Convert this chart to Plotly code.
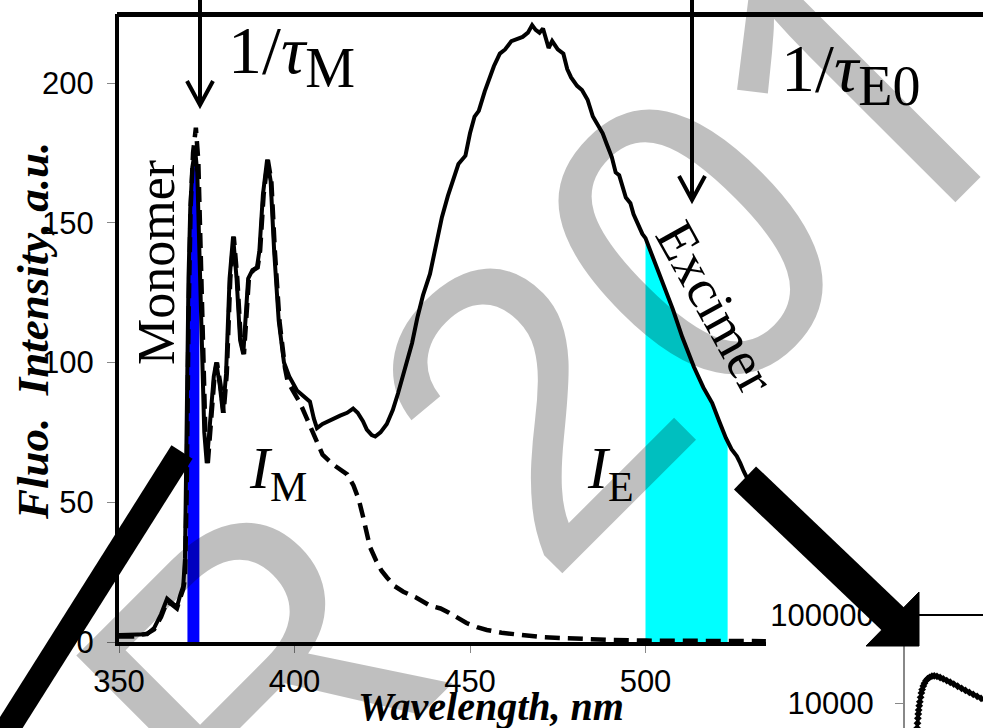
import plotly.graph_objects as go
import numpy as np

# ---------------- data ----------------
wl_solid = [350, 354, 358, 360, 362, 363.7, 365, 366.5, 367.5, 368.3, 368.8, 369.1, 369.4, 369.8, 370.3,
            370.9, 371.7, 372.3, 372.9, 373.6, 374.3, 375, 376, 377, 377.7, 378.7, 379.6, 380.5, 381.5,
            382.5, 383.5, 384.5, 385.4, 386.2, 386.8, 388, 389.3, 390, 391, 392.2, 393.2, 394.2, 395.5,
            397, 398.5, 400.7, 402.5, 404.4, 405.5, 406.4, 408, 409.5, 411, 413, 415, 416.7, 418, 419.5,
            420.6, 422, 423, 424.5, 426.3, 428, 429.5, 431.5, 433.5, 435, 436.6, 438.6, 440.6, 442, 443.7,
            446.7, 448.7, 450, 451.3, 452.5, 454.2, 456.8, 458.5, 460, 461.8, 463.5, 465, 466.5, 467.7,
            468.7, 469.8, 470.8, 471.6, 472.4, 473.4, 475, 476.6, 477.7, 478.8, 480.5, 481.9, 483.5, 485,
            486.5, 487.8, 489, 490.4, 491.5, 492.5, 494.4, 495.7, 496.6, 498, 499.1, 500, 502, 504.5,
            507.8, 510.5, 513.8, 516.5, 519, 521, 522.9, 524.5, 526, 527, 528, 530, 532, 534.3]
int_solid = [2.5, 2.5, 2.8, 5, 10, 15.5, 14, 12.5, 17, 20, 30, 60, 100, 130, 155,
             170, 176, 168, 140, 100, 75, 64, 78, 95, 100, 92, 82, 96, 130,
             145, 130, 108, 103, 118, 130, 133, 134, 140, 160, 172.5, 165, 140, 115,
             100, 95, 90, 88, 86, 80, 76.5, 78, 79, 80, 81, 82, 83.5, 82, 79,
             76, 74, 73.5, 75, 78, 83, 89, 98, 107, 116, 124, 131.7, 144, 152, 159.6,
             171, 174, 182, 188, 190, 197, 206, 210.5, 212, 215, 216, 216.5, 218, 220.7,
             219, 218, 219.5, 216, 212.5, 215, 212, 210.5, 205, 202, 199, 197.5, 194, 188,
             185, 182, 178, 173.5, 168, 167, 159, 157, 153, 149, 146, 144.5, 138, 130,
             119, 109, 98.4, 91, 85.5, 79, 73, 69, 66.5, 64, 61, 56, 51, 46]

wl_dash = [350, 354, 358, 360, 362, 363.7, 365, 366.5, 367.5, 368.3, 368.8, 369.3, 369.8, 370.4, 371.1,
           371.9, 372.6, 373.2, 373.9, 374.6, 375.3, 376.3, 377.2, 377.9, 378.9, 379.8, 380.7, 381.7,
           382.7, 383.7, 384.7, 385.6, 386.4, 387, 388.2, 389.5, 390.2, 391.2, 392.4, 393.4, 394.4,
           395.7, 397.3, 398, 399.5, 401.6, 403.5, 405.3, 406.4, 408, 411, 413, 415, 416.8, 418.3,
           419.5, 420.5, 421.5, 423.3, 424.8, 426.4, 428.5, 431, 434.5, 438.6, 441.6, 444, 446.5, 449,
           452, 454.8, 459, 464, 470, 476.5, 483, 490.8, 500, 510, 520, 534.3]
int_dash = [2, 2, 3, 4.5, 9, 14.5, 13.5, 12, 16, 19, 23, 55, 115, 155, 175,
            184, 172, 140, 100, 75, 64, 78, 95, 100, 92, 82, 96, 130,
            145, 130, 108, 103, 118, 130, 133, 134, 140, 160, 172.5, 165, 140,
            115, 98, 93.5, 90, 85.5, 80, 75, 72, 67, 63.5, 61.5, 60, 56, 51,
            45, 38.5, 34, 29, 25.5, 23, 20, 18, 16, 13, 12, 10.5, 8.5, 6.8,
            5.3, 4.3, 3.3, 2.5, 1.8, 1.4, 1.0, 0.7, 0.5, 0.4, 0.3, 0.3]

monomer_band = [369.5, 372.9]
excimer_band = [500.0, 523.4]

x_ticks = [350, 400, 450, 500]
y_ticks = [0, 50, 100, 150, 200]

decay_t = [3.1, 3.2, 3.3, 3.4, 3.5, 3.65, 3.8, 4.0, 4.2, 4.4, 4.7, 5.0, 5.4, 5.8, 6.3, 6.9, 7.5,
           8.2, 9.0, 9.8, 10.7, 11.6, 12.5, 13.5, 14.5, 15.5, 16.5, 17.5, 18.5, 19.5, 20.5]
decay_counts = [5200, 5900, 6700, 7500, 8300, 9300, 10300, 11600, 13000, 14200, 15600, 16800, 18000,
                18900, 19600, 20200, 20300, 20100, 19500, 18800, 18000, 17200, 16400, 15500, 14700,
                13900, 13200, 12500, 11900, 11300, 10800]
decay_ticks = [10000, 100000]
decay_ticktext = ["10000", "100000"]

watermark_parts = ["R 20", "1", "9"]

# ---------------- helpers ----------------
W, H = 983, 728


def px(x):
    return x / W


def py(y):
    return 1 - y / H


def band(lo, hi):
    xs = np.array(wl_solid, dtype=float)
    ys = np.array(int_solid, dtype=float)
    m = (xs > lo) & (xs < hi)
    bx = [lo, lo] + list(xs[m]) + [hi, hi]
    by = [0, float(np.interp(lo, xs, ys))] + list(ys[m]) + [float(np.interp(hi, xs, ys)), 0]
    return bx, by


SERIF = "Liberation Serif"
SANS = "Liberation Sans"
TICK_SIZE = 31

fig = go.Figure()

bx, by = band(*monomer_band)
fig.add_trace(go.Scatter(x=bx, y=by, fill="toself", fillcolor="#0000FF", mode="lines",
                         line=dict(width=0), hoverinfo="skip", showlegend=False))
bx, by = band(*excimer_band)
fig.add_trace(go.Scatter(x=bx, y=by, fill="toself", fillcolor="#00FFFF", mode="lines",
                         line=dict(width=0), hoverinfo="skip", showlegend=False))

fig.add_trace(go.Scatter(x=wl_dash, y=int_dash, mode="lines",
                         line=dict(color="black", width=4.5, dash="15px,8px"), showlegend=False))
fig.add_trace(go.Scatter(x=wl_solid, y=int_solid, mode="lines",
                         line=dict(color="black", width=4), showlegend=False))

fig.add_trace(go.Scatter(x=decay_t, y=decay_counts, mode="lines+markers", xaxis="x2", yaxis="y2",
                         line=dict(color="black", width=3),
                         marker=dict(symbol="diamond", size=6, color="black"), showlegend=False))

x0_dom = 119 / W
x1_dom = 766 / W
y0_dom = (H - 642) / H
y1_dom = (H - 14) / H
x_per_nm = 3.51
y_per_unit = 2.795

fig.update_layout(
    width=W, height=H,
    margin=dict(l=0, r=0, t=0, b=0),
    paper_bgcolor="white", plot_bgcolor="rgba(0,0,0,0)",
    xaxis=dict(domain=[x0_dom, x1_dom], range=[350, 350 + (766 - 119) / x_per_nm],
               tickvals=x_ticks, ticks="outside", ticklen=7, tickcolor="#888888", tickwidth=1,
               showline=True, linecolor="black", linewidth=4, showgrid=False, zeroline=False,
               tickfont=dict(family=SANS, size=TICK_SIZE, color="black"), ticklabelstandoff=2,
               automargin=False),
    yaxis=dict(domain=[y0_dom, y1_dom], range=[0, (642 - 14) / y_per_unit],
               tickvals=y_ticks, ticks="outside", ticklen=8, tickcolor="#888888", tickwidth=1,
               showline=True, linecolor="black", linewidth=4, showgrid=False, zeroline=False,
               tickfont=dict(family=SANS, size=TICK_SIZE, color="black"), ticklabelstandoff=7,
               automargin=False),
    xaxis2=dict(domain=[905 / W, 1.0], range=[0, 20], anchor="y2", showticklabels=False,
                showline=False, showgrid=False, zeroline=False, ticks=""),
    yaxis2=dict(domain=[0, (H - 615) / H], type="log", range=[5 - 113 / 88, 5], anchor="x2",
                tickvals=decay_ticks, ticktext=decay_ticktext, ticks="outside", ticklen=8,
                tickcolor="#888888", showline=True, linecolor="#888888", linewidth=2,
                showgrid=False, zeroline=False, ticklabelstandoff=15,
                tickfont=dict(family=SANS, size=TICK_SIZE, color="black"), automargin=False),
)

shapes = []
# top frame line
shapes.append(dict(type="line", xref="paper", yref="paper", x0=px(117), y0=py(14.5), x1=px(983), y1=py(14.5),
                   line=dict(color="black", width=5), layer="above"))
# inset top line
shapes.append(dict(type="line", xref="paper", yref="paper", x0=px(905), y0=py(615), x1=px(983), y1=py(615),
                   line=dict(color="black", width=2), layer="above"))
# thin vertical arrows
for ax, tip in [(200, 105), (692, 200)]:
    shapes.append(dict(type="line", xref="paper", yref="paper", x0=px(ax), y0=py(0), x1=px(ax), y1=py(tip - 2),
                       line=dict(color="black", width=4), layer="above"))
    shapes.append(dict(type="path", xref="paper", yref="paper",
                       path=f"M {px(ax-13)},{py(tip-24)} L {px(ax)},{py(tip)} L {px(ax+13)},{py(tip-24)}",
                       line=dict(color="black", width=4), layer="above"))
# thick left bar
shapes.append(dict(type="line", xref="paper", yref="paper", x0=px(182), y0=py(452), x1=px(-25), y1=py(780),
                   line=dict(color="black", width=25), layer="above"))
# thick right arrow
shapes.append(dict(type="line", xref="paper", yref="paper", x0=px(745), y0=py(478), x1=px(895), y1=py(621),
                   line=dict(color="black", width=32), layer="above"))
shapes.append(dict(type="path", xref="paper", yref="paper",
                   path=f"M {px(866)},{py(646)} L {px(919)},{py(592)} L {px(919)},{py(646)} Z",
                   fillcolor="black", line=dict(color="black", width=1), layer="above"))
fig.update_layout(shapes=shapes)

ann = []


def add_text(text, x, y, size, angle=0, family=SERIF, color="black"):
    ann.append(dict(text=text, x=px(x), y=py(y), xref="paper", yref="paper", showarrow=False,
                    xanchor="center", yanchor="middle", textangle=angle,
                    font=dict(family=family, size=size, color=color)))


add_text("1/<i>τ</i><sub><span style='font-size:56px'>M</span></sub>", 291, 56, 68)
add_text("1/<i>τ</i><sub><span style='font-size:56px'>E0</span></sub>", 850, 74, 68)
add_text("Monomer", 156, 263, 52, angle=-90)
add_text("Excimer", 716, 307, 55, angle=61)
add_text("<i>I</i><sub>M</sub>", 278, 472, 60)
add_text("<i>I</i><sub>E</sub>", 610, 472, 60)
add_text("<b><i>Fluo.  Intensity, a.u.</i></b>", 33, 331, 45, angle=-90)
add_text("<b><i>Wavelength, nm</i></b>", 491, 706, 40)
# watermark (pieces, rotated 45 degrees)
WM = "rgba(0,0,0,0.25)"
add_text(watermark_parts[0], 462, 470, 415, angle=-45, family=SANS, color=WM)
add_text(watermark_parts[1], 846, 84, 415, angle=-45, family="Noto Sans", color=WM)
add_text(watermark_parts[2], 1014, -82, 415, angle=-45, family="Noto Sans", color=WM)
fig.update_layout(annotations=ann)

fig.write_html("out.html")
